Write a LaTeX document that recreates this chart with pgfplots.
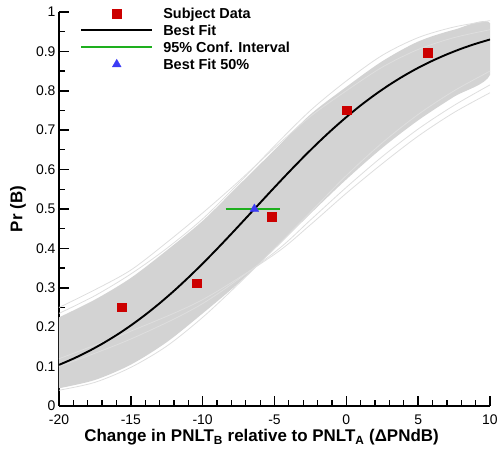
\documentclass[border=0pt]{standalone}
\usepackage{fontspec}
\setmainfont{Liberation Sans}
\usepackage{pgfplots}
\pgfplotsset{compat=1.18}
\definecolor{bandgray}{RGB}{211,211,211}
\definecolor{edgegray}{RGB}{222,222,222}
\definecolor{myred}{RGB}{204,0,0}
\definecolor{mygreen}{RGB}{30,175,30}
\definecolor{myblue}{RGB}{60,60,245}
\pgfplotsset{
  linelegend/.style={legend image code/.code={\draw[##1] (0bp,0bp) -- (71bp,0bp);}},
  marklegend/.style={legend image code/.code={\draw[mark repeat=2,mark phase=2,##1] plot coordinates {(0bp,0bp) (35.5bp,0bp) (71bp,0bp)};}},
}
\begin{document}
\begin{tikzpicture}
\begin{axis}[
  scale only axis, width=431bp, height=394bp,
  xmin=-20, xmax=10, ymin=0, ymax=1,
  axis x line*=bottom, axis y line*=left,
  axis line style={line width=2.2bp},
  every tick/.style={black, line width=1.6bp},
  minor tick style={line width=1.2bp},
  tick align=inside,
  major tick length=10bp, minor tick length=6bp,
  xtick={-20,-15,-10,-5,0,5,10},
  xticklabels={-20,-15,-10,-5,0,5,10},
  minor x tick num=4,
  ytick={0,0.1,0.2,0.3,0.4,0.5,0.6,0.7,0.8,0.9,1},
  yticklabels={0,0.1,0.2,0.3,0.4,0.5,0.6,0.7,0.8,0.9,1},
  minor y tick num=1,
  tick label style={font=\fontsize{14}{16}\selectfont},
  xticklabel style={yshift=-5bp},
  xlabel={\textbf{Change in PNLT\textsubscript{B} relative to PNLT\textsubscript{A} (ΔPNdB)}},
  ylabel={\textbf{Pr (B)}},
  label style={font=\fontsize{17}{19}\selectfont},
  xlabel style={at={(axis description cs:0.47,-0.08)}, anchor=center},
  ylabel style={at={(axis description cs:-0.095,0.5)}, anchor=center},
  legend style={at={(axis description cs:0.0487,1.014)}, anchor=north west,
    draw=none, fill=none, inner sep=0pt,
    font=\bfseries\fontsize{14.5}{16}\selectfont, row sep=3.5bp,
    nodes={inner sep=1bp, text depth=0.1em},
    /tikz/every odd column/.append style={column sep=9bp}},
  legend cell align=left,
]
% bootstrap band (envelope of many fitted curves)
\addplot[draw=none, fill=bandgray, smooth, forget plot] coordinates {
  (-20,0.225) (-17.5,0.27) (-15,0.325) (-12.5,0.395) (-10,0.47) (-7.5,0.56)
  (-5,0.65) (-2.5,0.74) (0,0.81) (2.5,0.875) (5,0.925) (7.5,0.955) (10,0.972)
  (10,0.84) (7.5,0.785) (5,0.725) (2.5,0.655) (0,0.575) (-2.5,0.488) (-5,0.398)
  (-7.5,0.312) (-10,0.235) (-12.5,0.162) (-15,0.105) (-17.5,0.066) (-20,0.045)
} -- cycle;
% individual light curves near the edges
\addplot[edgegray, line width=0.8bp, smooth, forget plot] coordinates {
  (-20,0.25) (-17.5,0.295) (-15,0.345) (-12.5,0.415) (-10,0.49) (-7.5,0.57)
  (-5,0.655) (-2.5,0.735) (0,0.80) (2.5,0.86) (5,0.905) (7.5,0.935) (10,0.955)};
\addplot[edgegray, line width=0.8bp, smooth, forget plot] coordinates {
  (-20,0.235) (-17.5,0.28) (-15,0.335) (-12.5,0.40) (-10,0.475) (-7.5,0.565)
  (-5,0.66) (-2.5,0.75) (0,0.825) (2.5,0.89) (5,0.935) (7.5,0.962) (10,0.978)};
\addplot[edgegray, line width=0.8bp, smooth, forget plot] coordinates {
  (-20,0.12) (-15,0.19) (-10,0.27) (-5,0.385) (-2.5,0.46) (0,0.54)
  (2.5,0.615) (5,0.685) (7.5,0.745) (10,0.795)};
\addplot[edgegray, line width=0.8bp, smooth, forget plot] coordinates {
  (-20,0.10) (-15,0.17) (-10,0.26) (-5,0.39) (-2.5,0.472) (0,0.555)
  (2.5,0.633) (5,0.703) (7.5,0.763) (10,0.815)};
\addplot[edgegray, line width=0.8bp, smooth, forget plot] coordinates {
  (-20,0.04) (-17.5,0.06) (-15,0.098) (-12.5,0.152) (-10,0.225) (-7.5,0.31)
  (-5,0.40) (-2.5,0.492) (0,0.585) (2.5,0.668) (5,0.74) (7.5,0.80) (10,0.85)};
% subject data
\addplot[only marks, mark=square*, mark size=4.4bp,
  mark options={fill=myred, draw=myred, line width=0.2bp}, marklegend] coordinates {
  (-15.62,0.251) (-10.4,0.312) (-5.18,0.48) (0.04,0.751) (5.68,0.896)};
\addlegendentry{Subject Data}
% best fit
\addplot[black, line width=1.9bp, smooth, linelegend] coordinates {
  (-20,0.1044) (-19,0.1202) (-18,0.1379) (-17,0.1578) (-16,0.1799) (-15,0.2044)
  (-14,0.2313) (-13,0.2606) (-12,0.2921) (-11,0.3259) (-10,0.3615) (-9,0.3987)
  (-8,0.4371) (-7,0.4763) (-6,0.5157) (-5,0.5550) (-4,0.5936) (-3,0.6311)
  (-2,0.6671) (-1,0.7012) (0,0.7332) (1,0.7630) (2,0.7903) (3,0.8153)
  (4,0.8379) (5,0.8583) (6,0.8764) (7,0.8925) (8,0.9068) (9,0.9193) (10,0.9302)};
\addlegendentry{Best Fit}
% 95% confidence interval
\addplot[mygreen, line width=2.1bp, linelegend] coordinates {(-8.4,0.5) (-4.6,0.5)};
\addlegendentry{95\% Conf. Interval}
% best fit 50%
\addplot[only marks, mark=triangle*, mark size=5.2bp,
  mark options={fill=myblue, draw=myblue, line width=0.2bp}, marklegend] coordinates {(-6.4,0.5)};
\addlegendentry{Best Fit 50\%}
\coordinate (bl) at (rel axis cs:0,0);
\end{axis}
\pgfresetboundingbox
\path (bl) ++(-59bp,-43bp) rectangle ++(498bp,449bp);
\end{tikzpicture}
\end{document}
